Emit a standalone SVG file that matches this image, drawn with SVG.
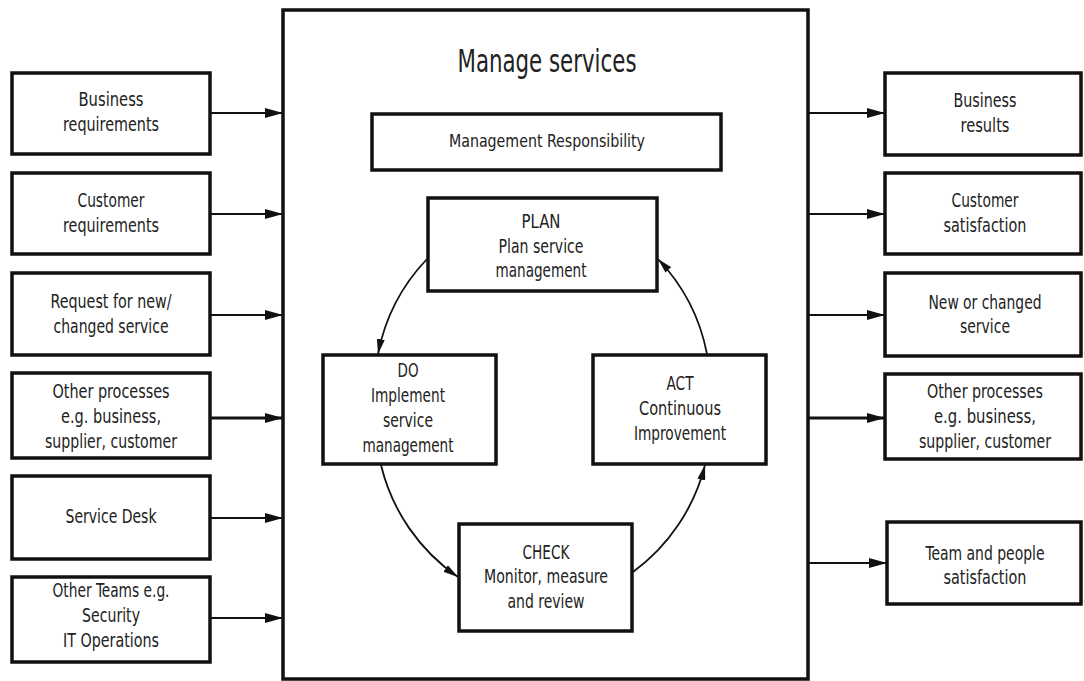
<svg xmlns="http://www.w3.org/2000/svg" width="1084" height="681" viewBox="0 0 1084 681">
  <style>
    .box { fill: #fff; stroke: #111; stroke-width: 3.5; }
    .frame { fill: #fff; stroke: #111; stroke-width: 3.5; }
    .t { font-family: "DejaVu Sans Condensed", "Liberation Sans Narrow", "Liberation Sans", sans-serif; font-size: 19px; fill: #222; text-anchor: middle; }
    .title { font-size: 32px; }
    .mr { font-size: 17px; }
    .link { fill: none; stroke: #111; stroke-width: 2; }
    .link.heavy { stroke-width: 3; }
    .cycle { fill: none; stroke: #111; stroke-width: 1.8; }
  </style>
  <defs>
    <marker id="arrow" markerUnits="userSpaceOnUse" markerWidth="18" markerHeight="10" refX="18" refY="5" orient="auto">
      <path d="M0,0 L18,5 L0,10 z" fill="#111"/>
    </marker>
    <marker id="arrow-small" markerUnits="userSpaceOnUse" markerWidth="15" markerHeight="8" refX="15" refY="4" orient="auto">
      <path d="M0,0 L15,4 L0,8 z" fill="#111"/>
    </marker>
  </defs>
  <rect width="1084" height="681" fill="#fff"/>

  <!-- central process frame -->
  <g id="manage-services">
    <rect class="frame" x="283" y="10" width="525" height="669"/>
    <text class="t title" x="547" y="72" textLength="179" lengthAdjust="spacingAndGlyphs">Manage services</text>
  </g>
  <g id="management-responsibility">
    <rect class="box" x="372" y="114" width="349" height="56"/>
    <text class="t mr" x="547" y="147" textLength="196" lengthAdjust="spacingAndGlyphs">Management Responsibility</text>
  </g>

  <!-- inputs -->
  <g id="in-business">
    <rect class="box" x="12" y="73" width="198" height="81"/>
    <text class="t" x="111" y="106" textLength="65" lengthAdjust="spacingAndGlyphs">Business</text>
    <text class="t" x="111" y="131" textLength="96" lengthAdjust="spacingAndGlyphs">requirements</text>
  </g>
  <g id="in-customer">
    <rect class="box" x="12" y="173" width="198" height="81"/>
    <text class="t" x="111" y="207" textLength="67" lengthAdjust="spacingAndGlyphs">Customer</text>
    <text class="t" x="111" y="232" textLength="96" lengthAdjust="spacingAndGlyphs">requirements</text>
  </g>
  <g id="in-request">
    <rect class="box" x="12" y="273" width="198" height="82"/>
    <text class="t" x="111" y="308" textLength="121" lengthAdjust="spacingAndGlyphs">Request for new/</text>
    <text class="t" x="111" y="333" textLength="115" lengthAdjust="spacingAndGlyphs">changed service</text>
  </g>
  <g id="in-other-processes">
    <rect class="box" x="12" y="373" width="198" height="85"/>
    <text class="t" x="111" y="398" textLength="117" lengthAdjust="spacingAndGlyphs">Other processes</text>
    <text class="t" x="111" y="423" textLength="100" lengthAdjust="spacingAndGlyphs">e.g. business,</text>
    <text class="t" x="111" y="448" textLength="132" lengthAdjust="spacingAndGlyphs">supplier, customer</text>
  </g>
  <g id="in-service-desk">
    <rect class="box" x="12" y="476" width="198" height="83"/>
    <text class="t" x="111" y="523" textLength="91" lengthAdjust="spacingAndGlyphs">Service Desk</text>
  </g>
  <g id="in-other-teams">
    <rect class="box" x="12" y="577" width="198" height="85"/>
    <text class="t" x="111" y="597" textLength="117" lengthAdjust="spacingAndGlyphs">Other Teams e.g.</text>
    <text class="t" x="111" y="622" textLength="58" lengthAdjust="spacingAndGlyphs">Security</text>
    <text class="t" x="111" y="647" textLength="96" lengthAdjust="spacingAndGlyphs">IT Operations</text>
  </g>

  <!-- outputs -->
  <g id="out-business">
    <rect class="box" x="885" y="73" width="196" height="82"/>
    <text class="t" x="985" y="107" textLength="63" lengthAdjust="spacingAndGlyphs">Business</text>
    <text class="t" x="985" y="132" textLength="49" lengthAdjust="spacingAndGlyphs">results</text>
  </g>
  <g id="out-customer">
    <rect class="box" x="885" y="173" width="196" height="81"/>
    <text class="t" x="985" y="207" textLength="67" lengthAdjust="spacingAndGlyphs">Customer</text>
    <text class="t" x="985" y="232" textLength="83" lengthAdjust="spacingAndGlyphs">satisfaction</text>
  </g>
  <g id="out-service">
    <rect class="box" x="885" y="273" width="196" height="83"/>
    <text class="t" x="985" y="309" textLength="113" lengthAdjust="spacingAndGlyphs">New or changed</text>
    <text class="t" x="985" y="333" textLength="50" lengthAdjust="spacingAndGlyphs">service</text>
  </g>
  <g id="out-other-processes">
    <rect class="box" x="885" y="374" width="196" height="85"/>
    <text class="t" x="985" y="398" textLength="116" lengthAdjust="spacingAndGlyphs">Other processes</text>
    <text class="t" x="985" y="423" textLength="102" lengthAdjust="spacingAndGlyphs">e.g. business,</text>
    <text class="t" x="985" y="448" textLength="132" lengthAdjust="spacingAndGlyphs">supplier, customer</text>
  </g>
  <g id="out-team">
    <rect class="box" x="887" y="522" width="194" height="82"/>
    <text class="t" x="985" y="560" textLength="119" lengthAdjust="spacingAndGlyphs">Team and people</text>
    <text class="t" x="985" y="584" textLength="83" lengthAdjust="spacingAndGlyphs">satisfaction</text>
  </g>

  <!-- PDCA cycle -->
  <g id="plan">
    <rect class="box" x="428" y="198" width="229" height="93"/>
    <text class="t" x="541" y="228" textLength="39" lengthAdjust="spacingAndGlyphs">PLAN</text>
    <text class="t" x="541" y="253" textLength="85" lengthAdjust="spacingAndGlyphs">Plan service</text>
    <text class="t" x="541" y="277" textLength="91" lengthAdjust="spacingAndGlyphs">management</text>
  </g>
  <g id="do">
    <rect class="box" x="323" y="355" width="173" height="109"/>
    <text class="t" x="408" y="377" textLength="21" lengthAdjust="spacingAndGlyphs">DO</text>
    <text class="t" x="408" y="402" textLength="74" lengthAdjust="spacingAndGlyphs">Implement</text>
    <text class="t" x="408" y="427" textLength="50" lengthAdjust="spacingAndGlyphs">service</text>
    <text class="t" x="408" y="452" textLength="91" lengthAdjust="spacingAndGlyphs">management</text>
  </g>
  <g id="act">
    <rect class="box" x="593" y="355" width="173" height="109"/>
    <text class="t" x="680" y="390" textLength="27" lengthAdjust="spacingAndGlyphs">ACT</text>
    <text class="t" x="680" y="415" textLength="82" lengthAdjust="spacingAndGlyphs">Continuous</text>
    <text class="t" x="680" y="440" textLength="92" lengthAdjust="spacingAndGlyphs">Improvement</text>
  </g>
  <g id="check">
    <rect class="box" x="459" y="524" width="173" height="107"/>
    <text class="t" x="546" y="559" textLength="47" lengthAdjust="spacingAndGlyphs">CHECK</text>
    <text class="t" x="546" y="583" textLength="124" lengthAdjust="spacingAndGlyphs">Monitor, measure</text>
    <text class="t" x="546" y="608" textLength="77" lengthAdjust="spacingAndGlyphs">and review</text>
  </g>

  <g id="connectors">
    <!-- inputs into the frame -->
    <path class="link" d="M210,113 H283" marker-end="url(#arrow)"/>
    <path class="link" d="M210,214 H283" marker-end="url(#arrow)"/>
    <path class="link" d="M210,315 H283" marker-end="url(#arrow)"/>
    <path class="link heavy" d="M210,418 H283" marker-end="url(#arrow)"/>
    <path class="link" d="M210,518 H283" marker-end="url(#arrow)"/>
    <path class="link" d="M210,618 H283" marker-end="url(#arrow)"/>
    <!-- outputs from the frame -->
    <path class="link" d="M808,113 H885" marker-end="url(#arrow)"/>
    <path class="link" d="M808,214 H885" marker-end="url(#arrow)"/>
    <path class="link" d="M808,315 H885" marker-end="url(#arrow)"/>
    <path class="link heavy" d="M808,418 H885" marker-end="url(#arrow)"/>
    <path class="link" d="M808,563 H887" marker-end="url(#arrow)"/>
    <!-- plan, do, check, act -->
    <path class="cycle" d="M427,259 A190,190 0 0 0 378,354" marker-end="url(#arrow-small)"/>
    <path class="cycle" d="M381,465 A190,190 0 0 0 458,577" marker-end="url(#arrow-small)"/>
    <path class="cycle" d="M633,572 A190,190 0 0 0 705,465" marker-end="url(#arrow-small)"/>
    <path class="cycle" d="M707,354 A190,190 0 0 0 658,259" marker-end="url(#arrow-small)"/>
  </g>
</svg>
